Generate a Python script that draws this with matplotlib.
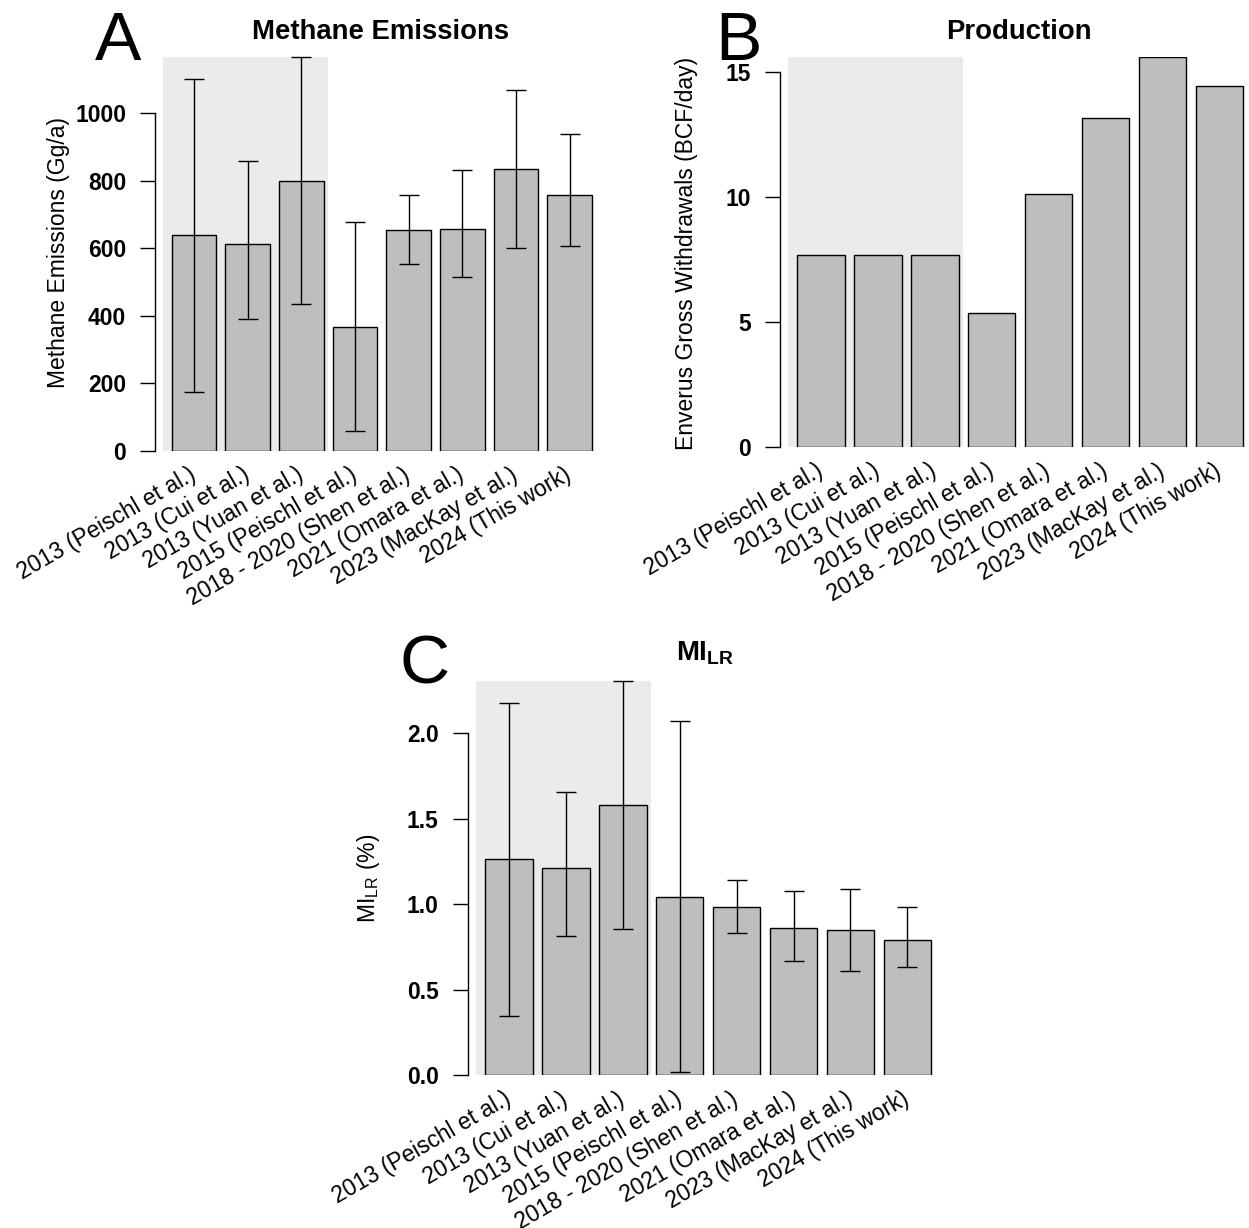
import numpy as np
import matplotlib
matplotlib.use("Agg")
import matplotlib.pyplot as plt
from matplotlib.patches import Rectangle

plt.rcParams['font.family'] = ['Liberation Sans', 'DejaVu Sans']
plt.rcParams['mathtext.fontset'] = 'custom'
plt.rcParams['mathtext.rm'] = 'Liberation Sans'
plt.rcParams['mathtext.bf'] = 'Liberation Sans:bold'

# Datos
estudios = ["2013 (Peischl et al.)", "2013 (Cui et al.)", "2013 (Yuan et al.)",
            "2015 (Peischl et al.)", "2018 - 2020 (Shen et al.)", "2021 (Omara et al.)",
            "2023 (MacKay et al.)", "2024 (This work)"]

emisiones = [639, 612, 801, 368, 654, 657, 834, 758]
emisiones_lo = [176, 392, 435, 60, 554, 515, 600, 607]
emisiones_hi = [1101, 858, 1166, 678, 758, 831, 1070, 939]

produccion = [7.69, 7.69, 7.69, 5.35, 10.14, 13.17, 15.6, 14.45]

mi_lr = [1.262, 1.210, 1.582, 1.042, 0.981, 0.859, 0.851, 0.790]
mi_lr_lo = [0.347, 0.812, 0.857, 0.020, 0.829, 0.667, 0.607, 0.630]
mi_lr_hi = [2.174, 1.657, 2.304, 2.068, 1.141, 1.079, 1.087, 0.981]

W, H = 1249, 1228
fig = plt.figure(figsize=(W / 100, H / 100), dpi=100)

GRIS = "#bebebe"
FONDO = "#ebebeb"
FS = 16.5


def panel(rect_px, vals, ymax, yticks, ytl, lo=None, hi=None):
    # rect_px = (left, top, width, height) en pixeles
    l, t, w, h = rect_px
    ax = fig.add_axes([l / W, 1 - (t + h) / H, w / W, h / H])
    x = 0.7 + 1.2 * np.arange(len(vals))
    ax.add_patch(Rectangle((0, 0), 3.7, ymax, facecolor=FONDO, edgecolor="none", zorder=0))
    ax.bar(x, vals, width=1.0, color=GRIS, edgecolor="black", linewidth=1.0, zorder=2)
    if lo is not None:
        v = np.array(vals)
        yerr = [v - np.array(lo), np.array(hi) - v]
        eb = ax.errorbar(x, v, yerr=yerr, fmt="none", ecolor="black", elinewidth=1.0,
                         capsize=7.2, capthick=1.0, zorder=3)
        for art in eb.get_children():
            art.set_clip_on(False)
    ax.set_xlim(-0.176, 9.976)
    ax.set_ylim(0, ymax)
    for s in ["top", "right", "bottom"]:
        ax.spines[s].set_visible(False)
    ax.spines["left"].set_bounds(yticks[0], yticks[-1])
    ax.spines["left"].set_linewidth(1.0)
    ax.set_yticks(yticks)
    ax.set_yticklabels(ytl, fontweight="bold")
    ax.tick_params(axis="y", length=10.8, width=1.0, pad=10, labelsize=FS)
    ax.set_xticks(x)
    ax.set_xticklabels(estudios, rotation=30, ha="right", va="center",
                       rotation_mode="anchor", fontsize=FS)
    ax.tick_params(axis="x", length=0, pad=16)
    ax.patch.set_alpha(0)
    return ax


# A
panel((154.9, 57.3, 453.8, 393.7), emisiones, 1166, [0, 200, 400, 600, 800, 1000],
      ["0", "200", "400", "600", "800", "1000"], emisiones_lo, emisiones_hi)
fig.text(381 / W, 1 - 39.3 / H, "Methane Emissions", ha="center", va="baseline",
         fontsize=19.8, fontweight="bold")
fig.text(58.8 / W, 1 - 253 / H, "Methane Emissions (Gg/a)", rotation=90,
         ha="center", va="center", fontsize=FS)
fig.text(95 / W, 1 - 60 / H, "A", ha="left", va="baseline", fontsize=50)

# B
panel((779.6, 57.3, 481.2, 389.7), produccion, 15.6, [0, 5, 10, 15],
      ["0", "5", "10", "15"])
fig.text(1019 / W, 1 - 39.3 / H, "Production", ha="center", va="baseline",
         fontsize=19.8, fontweight="bold")
fig.text(686.5 / W, 1 - 253 / H, "Enverus Gross Withdrawals (BCF/day)", rotation=90,
         ha="center", va="center", fontsize=FS)
fig.text(715 / W, 1 - 60 / H, "B", ha="left", va="baseline", fontsize=50)

# C
panel((467.6, 681.0, 481.2, 394.3), mi_lr, 2.304, [0, 0.5, 1.0, 1.5, 2.0],
      ["0.0", "0.5", "1.0", "1.5", "2.0"], mi_lr_lo, mi_lr_hi)
fig.text(705 / W, 1 - 660 / H, r"$\mathbf{MI}_{\mathbf{LR}}$", ha="center", va="baseline",
         fontsize=19.8)
fig.text(368 / W, 1 - 878 / H, r"MI$_{\mathrm{LR}}$ (%)", rotation=90,
         ha="center", va="center", fontsize=FS)
fig.text(399.5 / W, 1 - 684 / H, "C", ha="left", va="baseline", fontsize=50)

fig.savefig("out.png", dpi=100)
